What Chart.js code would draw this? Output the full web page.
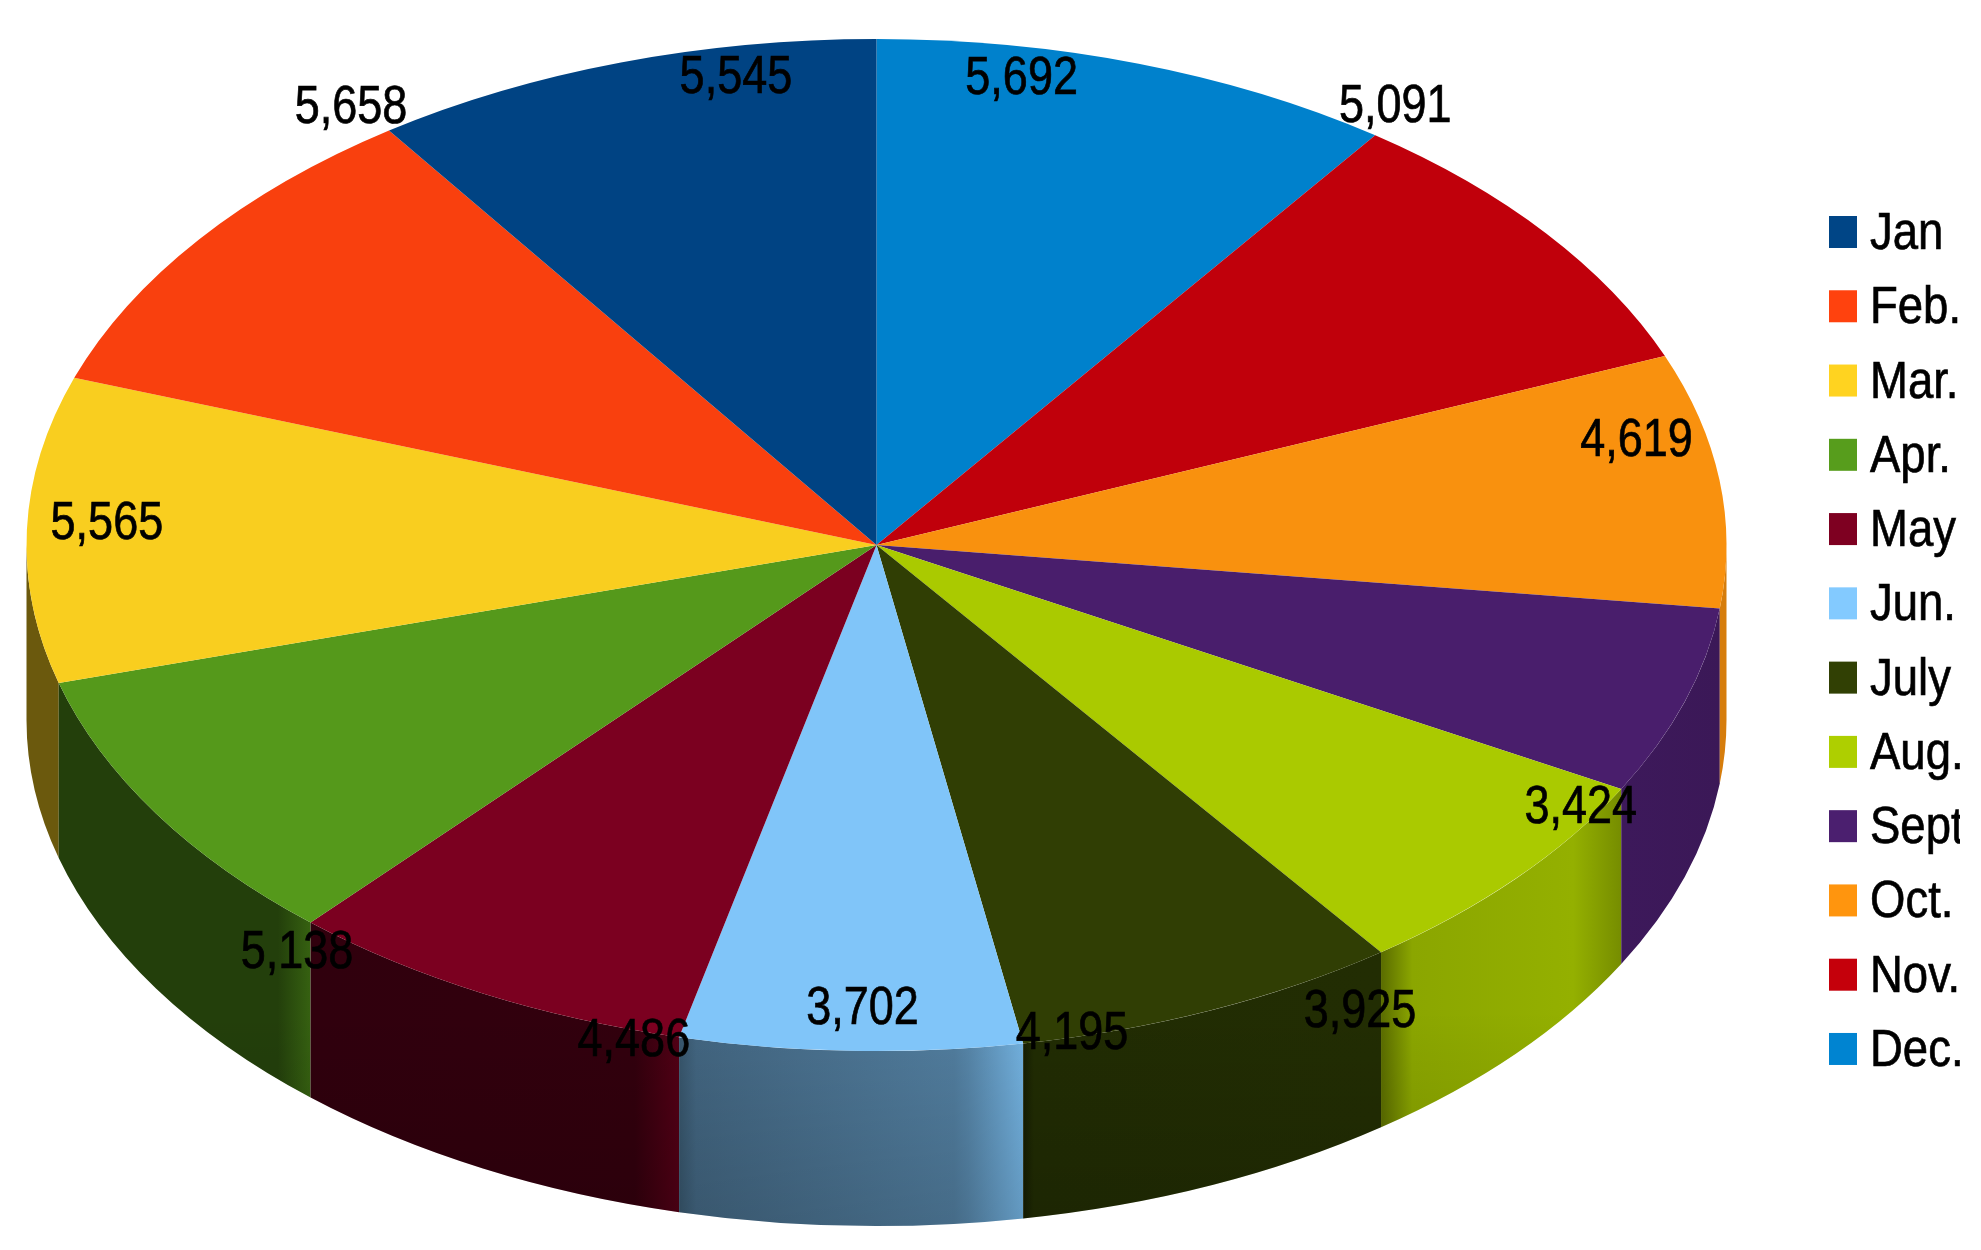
<!DOCTYPE html>
<html>
<head>
<meta charset="utf-8">
<title>Monthly totals</title>
<script src="https://cdn.jsdelivr.net/npm/chart.js@4"></script>
<style>
    html, body { margin: 0; padding: 0; background: #ffffff; overflow: hidden; }
    canvas { display: block; filter: blur(0.6px); }
</style>
</head>
<body>
<canvas id="pie" width="1981" height="1250"></canvas>
<script>
// Values run counter-clockwise from the top in the picture, Jan first
const MONTHS = ["Jan", "Feb.", "Mar.", "Apr.", "May", "Jun.", "July", "Aug.", "Sept.", "Oct.", "Nov.", "Dec."];
const VALUES = [5545, 5658, 5565, 5138, 4486, 3702, 4195, 3925, 3424, 4619, 5091, 5692];
const COLORS = ["#004586", "#ff420e", "#ffd320", "#579d1c", "#7e0021", "#83caff",
                "#314004", "#aecf00", "#4b1f6f", "#ff950e", "#c5000b", "#0084d1"];

// Label offset from the rim point at the middle of each slice
const LABEL_OFFSETS = [[115, 16], [152, -131], [80, -6], [141, 140], [151, 48], [12, -42],
                       [-139, 24], [-156, 134], [-104, 107], [-83, -39], [-151, -126], [-117, 15]];

// Side wall brightness, left to right across the visible part of a slice
const WALL_SHADES = {
    "Mar.": [[0, 0.42], [1, 0.42]],
    "Apr.": [[0, 0.40], [0.87, 0.40], [1, 0.62]],
    "May": [[0, 0.38], [0.88, 0.40], [1, 0.65]],
    "Jun.": [[0, 0.42], [0.05, 0.50], [0.80, 0.62], [0.84, 0.66], [1, 0.88]],
    "July": [[0, 0.45], [0.03, 0.68], [1, 0.70]],
    "Aug.": [[0, 0.52], [0.13, 0.80], [0.80, 0.85], [1, 0.68]],
    "Sept.": [[0, 0.82], [1, 0.78]],
    "Oct.": [[0, 0.84], [1, 0.84]]
};

const RADIUS = 850;
const SQUASH = 506 / 850;
const DEPTH = 175;
const TOP_SHADE = 0.975;

const LABEL_FONT = { size: 45, stretch: 1.2 };
const LEGEND_FONT = { size: 45.5, stretch: 1.13 };
const LEGEND = { x: 1829, top: 216, step: 74.27, boxW: 28, boxH: 32, textX: 1870, clipX: 1960 };

function shade(hex, k) {
    const n = parseInt(hex.slice(1), 16);
    const ch = (v) => Math.round(v * k);
    return `rgb(${ch((n >> 16) & 255)}, ${ch((n >> 8) & 255)}, ${ch(n & 255)})`;
}

function stretchedText(ctx, text, x, y, font, align, baseline) {
    ctx.save();
    ctx.translate(x, y);
    ctx.scale(1, font.stretch);
    ctx.font = `${font.size}px "Liberation Sans"`;
    ctx.fillStyle = "#000000";
    ctx.strokeStyle = "#000000";
    ctx.lineWidth = 0.6; // the original text is a bit heavier
    ctx.textAlign = align;
    ctx.textBaseline = baseline;
    ctx.fillText(text, 0, 0);
    ctx.strokeText(text, 0, 0);
    ctx.restore();
}

function arcForMonth(chart, i) {
    // dataset is stored reversed because Chart.js only sweeps clockwise
    return chart.getDatasetMeta(0).data[MONTHS.length - 1 - i];
}

function drawWall(ctx, arc, i) {
    const start = Math.max(arc.startAngle, 0);
    const end = Math.min(arc.endAngle, Math.PI);
    if (end <= start) return;

    const rx = arc.outerRadius;
    const ry = rx * SQUASH;
    const left = arc.x + rx * Math.cos(end);
    const right = arc.x + rx * Math.cos(start);

    const gradient = ctx.createLinearGradient(left, 0, right, 0);
    (WALL_SHADES[MONTHS[i]] || [[0, 0.4], [1, 0.4]]).forEach(([pos, k]) => {
        gradient.addColorStop(pos, shade(COLORS[i], k));
    });

    ctx.beginPath();
    ctx.ellipse(arc.x, arc.y, rx, ry, 0, start, end);
    ctx.ellipse(arc.x, arc.y + DEPTH, rx, ry, 0, end, start, true);
    ctx.closePath();
    ctx.fillStyle = gradient;
    ctx.fill();

    // walls get a little darker towards the floor
    const fade = ctx.createLinearGradient(0, arc.y + ry - 40, 0, arc.y + ry + DEPTH);
    fade.addColorStop(0, "rgba(0, 0, 0, 0)");
    fade.addColorStop(1, "rgba(0, 0, 0, 0.14)");
    ctx.fillStyle = fade;
    ctx.fill();
}

const pie3d = {
    id: "pie3d",
    beforeDatasetsDraw(chart) {
        const ctx = chart.ctx;
        MONTHS.forEach((m, i) => drawWall(ctx, arcForMonth(chart, i), i));

        // flatten the round pie into the top plate
        const first = chart.getDatasetMeta(0).data[0];
        ctx.save();
        ctx.translate(first.x, first.y);
        ctx.scale(1, SQUASH);
        ctx.translate(-first.x, -first.y);
    },
    afterDatasetsDraw(chart) {
        chart.ctx.restore();
    },
    afterDraw(chart) {
        const ctx = chart.ctx;

        // value labels
        VALUES.forEach((v, i) => {
            const arc = arcForMonth(chart, i);
            const mid = (arc.startAngle + arc.endAngle) / 2;
            const x = arc.x + arc.outerRadius * Math.cos(mid) + LABEL_OFFSETS[i][0];
            const y = arc.y + arc.outerRadius * SQUASH * Math.sin(mid) + LABEL_OFFSETS[i][1];
            stretchedText(ctx, v.toLocaleString("en-US"), x, y, LABEL_FONT, "center", "middle");
        });

        // legend, cut off on the right like the original
        ctx.save();
        ctx.beginPath();
        ctx.rect(0, 0, LEGEND.clipX, chart.height);
        ctx.clip();
        MONTHS.forEach((m, i) => {
            const top = LEGEND.top + LEGEND.step * i;
            ctx.fillStyle = COLORS[i];
            ctx.fillRect(LEGEND.x, top, LEGEND.boxW, LEGEND.boxH);
            stretchedText(ctx, m, LEGEND.textX, top + LEGEND.boxH + 1, LEGEND_FONT, "left", "alphabetic");
        });
        ctx.restore();
    }
};

new Chart(document.getElementById("pie"), {
    type: "pie",
    data: {
        labels: MONTHS.slice().reverse(),
        datasets: [{
            data: VALUES.slice().reverse(),
            backgroundColor: COLORS.map((c) => shade(c, TOP_SHADE)).reverse(),
            borderWidth: 0,
            radius: RADIUS,
            clip: false
        }]
    },
    options: {
        responsive: false,
        animation: false,
        layout: { padding: { right: 228, bottom: 160 } },
        plugins: {
            legend: { display: false },
            tooltip: { enabled: false }
        }
    },
    plugins: [pie3d]
});
</script>
</body>
</html>
